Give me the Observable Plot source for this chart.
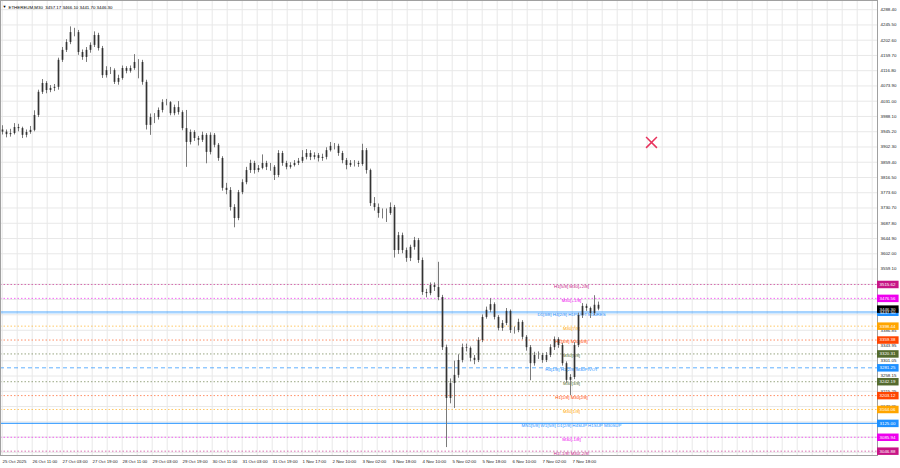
<!DOCTYPE html>
<html><head><meta charset="utf-8">
<script src="https://cdn.jsdelivr.net/npm/d3@7"></script>
<script src="https://cdn.jsdelivr.net/npm/@observablehq/plot@0.6"></script>
<style>
html,body{margin:0;padding:0;background:#fff;}
svg{display:block;}
</style></head><body><div id="chart"></div>
<script>
const symbol = "ETHEREUM";
const timeframe = "M30";
const firstOpen = 3950;
const close = [
3944,3937,3940,3957,3954,3935,3943,3949,3991,4056,4081,4061,4067,4070,4146,4174,4196,4224,4224,4168,4154,4174,4188,4216,4179,4103,4117,4117,4084,4095,4123,4115,4123,4140,4140,4084,3963,3985,
3985,4005,4027,4027,3996,4013,3999,3954,3915,3943,3926,3921,3935,3887,3935,3907,3870,3786,3780,3732,3701,3774,3802,3836,3856,3836,3842,3856,3845,3845,3822,3884,3856,3845,3850,3856,3862,3873,
3884,3873,3878,3870,3873,3892,3904,3904,3884,3864,3850,3856,3856,3853,3892,3836,3743,3732,3715,3715,3715,3732,3611,3653,3611,3589,3620,3639,3583,3493,3490,3513,3507,3479,3338,3195,3237,
3260,3302,3338,3336,3308,3302,3358,3423,3443,3459,3423,3392,3406,3440,3386,3386,3409,3367,3338,3293,3316,3316,3302,3316,3338,3361,3344,3293,3246,3254,3344,3428,3454,3448,3434,3457.17,3446.30];
const high = [
3962,3950,3952,3968,3966,3958,3950,3960,4004,4062,4092,4086,4075,4078,4152,4182,4204,4240,4236,4230,4175,4182,4195,4226,4222,4185,4128,4126,4122,4104,4130,4128,4130,4162,4148,4146,4090,3995,
3996,4012,4035,4036,4030,4020,4030,4004,4005,3950,3948,3932,3944,3940,3942,3940,3912,3875,3800,3788,3740,3780,3810,3845,3865,3862,3850,3880,3862,3856,3850,3892,3890,3862,3858,3864,3870,3892,
3895,3892,3886,3884,3882,3900,3915,3912,3910,3890,3870,3864,3864,3862,3910,3898,3840,3760,3742,3728,3728,3745,3738,3662,3660,3618,3626,3648,3645,3590,3502,3520,3520,3578,3485,3345,3250,
3300,3318,3348,3348,3340,3316,3366,3430,3452,3476,3464,3428,3414,3448,3444,3396,3418,3414,3372,3344,3325,3326,3322,3324,3346,3368,3366,3350,3298,3262,3352,3435,3462,3460,3452,3484,3466.10];
const low = [
3936,3928,3930,3936,3945,3926,3928,3938,3945,3985,4050,4052,4055,4058,4062,4140,4168,4190,4212,4160,4146,4140,4166,4182,4172,4095,4096,4106,4078,4076,4090,4108,4110,4118,4094,4076,3950,3935,
3968,3978,3998,4018,3990,3990,3992,3948,3845,3908,3918,3905,3915,3855,3880,3900,3862,3778,3768,3722,3675,3695,3768,3796,3828,3826,3830,3838,3836,3834,3808,3816,3848,3838,3840,3846,3850,3856,
3866,3864,3866,3860,3862,3866,3888,3894,3876,3855,3838,3845,3846,3845,3848,3826,3735,3722,3702,3700,3690,3710,3590,3600,3602,3578,3580,3612,3575,3485,3478,3484,3496,3470,3330,3057,3180,
3167,3252,3295,3326,3298,3290,3296,3352,3418,3436,3416,3385,3384,3400,3378,3376,3380,3360,3328,3245,3286,3305,3294,3296,3310,3330,3336,3286,3238,3203,3248,3338,3420,3440,3420,3428,3441.70];

const priceTicks = [4288.40,4245.50,4202.60,4159.70,4116.80,4073.90,4031.00,3988.10,3945.20,3902.30,3859.40,3816.50,3773.60,3730.70,3687.80,3644.90,3602.00,3559.10,3516.20,3473.30,3430.40,3386.85,3343.95,3301.05,3258.15,3215.25,3172.35,3129.45,3086.55,3043.65];
const timeLabels = ["25 Oct 2025","26 Oct 11:00","27 Oct 03:00","27 Oct 19:00","28 Oct 11:00","29 Oct 03:00","29 Oct 19:00","30 Oct 11:00","31 Oct 03:00","31 Oct 19:00","1 Nov 17:00","2 Nov 10:00","3 Nov 02:00","3 Nov 18:00","4 Nov 10:00","5 Nov 02:00","5 Nov 18:00","6 Nov 10:00","7 Nov 02:00","7 Nov 18:00"];

const levelPrices = [3515.62,3476.56,3437.50,3398.44,3359.38,3320.31,3281.25,3242.19,3203.12,3164.06,3125.00,3085.94,3046.88];
const levelNames = ["H1[5/8] M30[+2/8]","M30[+1/8]","D1[3/8] H4[2/8] H1PIVOT M30RES","M30[7/8]","H1[3/8] M30[6/8]","M30[5/8]","H4[1/8] H1[2/8] M30PIVOT","M30[3/8]","H1[1/8] M30[2/8]","M30[1/8]","MN1[5/8] W1[5/8] D1[2/8] H4SUP H1SUP M30SUP","M30[-1/8]","H1[-1/8] M30[-2/8]"];
const levelColors = ["#c71585","#ee00ee","#1e90ff","#ffa500","#ff4500","#556b2f","#1e90ff","#556b2f","#ff4500","#ffa500","#1e90ff","#ee00ee","#c71585"];
const levelDash = ["1.5,2","1.5,2",null,"1.5,2","1.5,2","1.5,2","4,3","1.5,2","1.5,2","1.5,2",null,"1.5,2","1.5,2"];
const levelWidth = [1,1,2.5,1,1,1,1,1,1,1,1.2,1,1];
const levelOpacity = [0.6,0.6,0.4,0.6,0.6,0.6,0.7,0.6,0.6,0.6,0.8,0.6,0.6];

const markerPrices = [3915];
const markerIndex = [162.25];

// ---- build ----
const n = close.length;
const candles = close.map((c, i) => ({i, open: i === 0 ? firstOpen : close[i - 1], close: c, high: high[i], low: low[i]}));
const last = candles[n - 1];
const xMax = 218.75;
const labelIndex = 142.25;
const levels = levelPrices.map((p, i) => ({price: p, name: levelNames[i], color: levelColors[i], dash: levelDash[i], w: levelWidth[i], o: levelOpacity[i]}));
const boxes = [...levels.map(l => ({price: l.price, color: l.color})), {price: last.close, color: "#000000"}];
const xTicks = timeLabels.map((label, k) => ({i: 7.5 * k - 0.25, label}));
const vgrid = d3.range(0, 60).map(k => 3.75 * k - 0.075).filter(v => v < xMax);
const marker = markerPrices.map((p, k) => ({i: markerIndex[k], price: p}));
const fmt = v => v.toFixed(2);
const header = `${symbol},${timeframe}  ${fmt(last.open)} ${fmt(last.high)} ${fmt(last.low)} ${fmt(last.close)}`;
const FS = 4.4;

const chart = Plot.plot({
  width: 900, height: 468,
  marginLeft: 0, marginRight: 23, marginTop: 0, marginBottom: 13,
  style: {fontFamily: "'Liberation Sans', Arial, sans-serif", fontSize: FS + "px", background: "#fff", color: "#000", overflow: "visible"},
  x: {domain: [-0.5, xMax], axis: null},
  y: {domain: [3034.7, 4314.2], axis: null},
  marks: [
    Plot.ruleY(priceTicks, {stroke: "#e8e8e8"}),
    Plot.ruleX(vgrid, {stroke: "#e8e8e8"}),
    ...levels.map(l => Plot.ruleY([l.price], {stroke: l.color, strokeDasharray: l.dash, strokeWidth: l.w, strokeOpacity: l.o})),
    Plot.text(levels, {x: () => labelIndex, y: "price", text: "name", fill: "color", dy: 2, fontSize: FS}),
    Plot.ruleX(candles, {x: "i", y1: "low", y2: "high", stroke: "#7a7a7a", strokeWidth: 1}),
    Plot.ruleX(candles, {x: "i", y1: "open", y2: "close", stroke: "#333", strokeWidth: 1.7}),
    Plot.frame({stroke: "#a0a0a0"}),
    Plot.text(priceTicks, {y: d => d, frameAnchor: "right", dx: 3, textAnchor: "start", text: fmt, fill: "#222", fontSize: FS}),
    Plot.text(xTicks, {x: "i", frameAnchor: "bottom", dy: 7, dx: 1, textAnchor: "start", text: "label", fill: "#222", fontSize: FS}),
    Plot.ruleY(boxes, {y: "price", x1: () => xMax, x2: () => xMax + 5.4, stroke: "color", strokeWidth: 7.5}),
    Plot.text(boxes, {x: () => xMax, y: "price", text: d => fmt(d.price), fill: "#fff", textAnchor: "start", dx: 2, fontSize: FS}),
    Plot.dot(marker, {x: "i", y: "price", symbol: "times", r: 5, stroke: "#e8335d", strokeWidth: 1.5}),
    Plot.text([header], {frameAnchor: "top-left", dx: 8, dy: 5, textAnchor: "start", text: d => d, fill: "#000", fontSize: FS}),
    Plot.text(["▼"], {frameAnchor: "top-left", dx: 2, dy: 5, textAnchor: "start", text: d => d, fill: "#000", fontSize: 4})
  ]
});
document.getElementById("chart").appendChild(chart);
</script>
</body></html>
